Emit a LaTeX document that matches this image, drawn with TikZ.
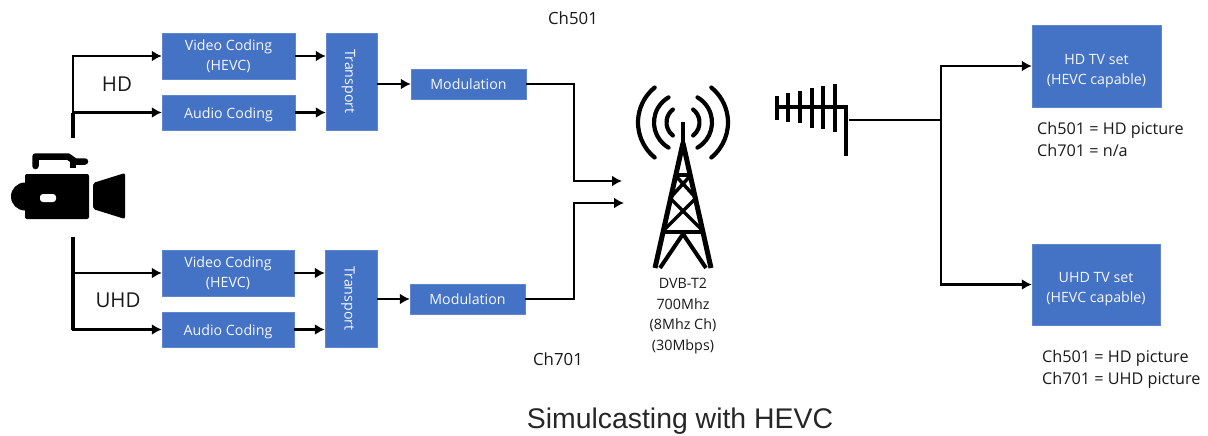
\documentclass[tikz,border=0pt]{standalone}
\usepackage{fontspec}
\setmainfont{Open Sans}
\newfontfamily\titlefont{Liberation Sans}
\usetikzlibrary{arrows.meta, positioning}
\definecolor{boxblue}{HTML}{4472C4}
\begin{document}
\begin{tikzpicture}[x=1pt, y=-1pt,
	block/.style={draw=boxblue!85!white, fill=boxblue, text=white!95!boxblue, font=\fontsize{14.2}{20}\selectfont, align=center, inner sep=0pt},
	lowtext/.style={execute at begin node={\rule{0pt}{16pt}}},
	label/.style={font=\fontsize{16.2}{21.5}\selectfont, align=left, inner sep=0pt, text=black!90},
	feed/.style={line width=2.9pt, -{Latex[length=10pt,width=11pt]}},
	heavy/.style={feed, line width=3.8pt},
	icon/.style={fill=black, draw=none},
	wave/.style={line width=4.2pt, line cap=round}]
	\useasboundingbox (0,0) rectangle (1208,436);
	\node[block, minimum width=133pt, minimum height=46pt] (video1) at (228.5,56) {Video Coding\\(HEVC)};
	\node[block, lowtext, minimum width=133pt, minimum height=35pt] (audio1) at (228.5,112.5) {Audio Coding};
	\node[block, lowtext, rotate=-90, minimum width=97pt, minimum height=51pt] (transport1) at (351.5,81.5) {Transport};
	\node[block, minimum width=115pt, minimum height=30pt] (mod1) at (468.5,84) {Modulation};
	\node[block, minimum width=132pt, minimum height=46pt] (video2) at (228,273) {Video Coding\\(HEVC)};
	\node[block, lowtext, minimum width=132pt, minimum height=35pt] (audio2) at (228,329.5) {Audio Coding};
	\node[block, lowtext, rotate=-90, minimum width=97pt, minimum height=52pt] (transport2) at (351,298.5) {Transport};
	\node[block, minimum width=115pt, minimum height=30pt] (mod2) at (467.5,299) {Modulation};
	\node[block, minimum width=129pt, minimum height=82pt] (hdtv) at (1096.5,66) {\rule{0pt}{20pt}HD TV set\\(HEVC capable)};
	\node[block, minimum width=128pt, minimum height=81pt] (uhdtv) at (1096,284.5) {\rule{0pt}{20pt}UHD TV set\\(HEVC capable)};
	\node[label, font=\fontsize{20.5}{24}\selectfont] (hd) at (117,84) {HD};
	\node[label, font=\fontsize{20.5}{24}\selectfont] (uhd) at (118,300) {UHD};
	\node[label, font=\fontsize{16.8}{20}\selectfont] (ch501) at (573,18) {Ch501};
	\node[label, font=\fontsize{16.8}{20}\selectfont] (ch701) at (558,359) {Ch701};
	\node[label, align=center, font=\fontsize{14.3}{20.5}\selectfont] (dvb) at (683,316) {DVB-T2\\700Mhz\\(8Mhz Ch)\\(30Mbps)};
	\node[label, anchor=north west] (hdtext) at (1037,122) {Ch501 = HD picture\\Ch701 = n/a};
	\node[label, anchor=north west] (uhdtext) at (1042,350) {Ch501 = HD picture\\Ch701 = UHD picture};
	\node[font=\titlefont\fontsize{28.4}{32}\selectfont, text=black!85, inner sep=0pt] (title) at (680,421.5) {Simulcasting with HEVC};

	\coordinate (camup) at (73,138);
	\coordinate (camdown) at (73,237);
	\coordinate (towerin1) at (622,181);
	\coordinate (towerin2) at (624,203);
	\coordinate (aerial) at (849,120);
	\coordinate (split) at (941,120);

	\draw[feed] (camup) |- (video1.west);
	\draw[feed] (camup |- audio1.west) -- (audio1.west);
	\draw[feed] (camdown) |- (video2.west);
	\draw[feed] (camdown) |- (audio2.west);
	\draw[line width=3.5pt] (camup) -- (camup |- audio1.west);
	\draw[line width=3.5pt] (camdown) -- (camdown |- audio2.west);
	\draw[feed] (video1.east) -- (video1.east -| transport1.south);
	\draw[heavy] (audio1.east) -- (audio1.east -| transport1.south);
	\draw[feed] (video2.east) -- (video2.east -| transport2.south);
	\draw[heavy] (audio2.east) -- (audio2.east -| transport2.south);
	\draw[feed] (mod1.west -| transport1.north) -- (mod1.west);
	\draw[feed] (mod2.west -| transport2.north) -- (mod2.west);
	\draw[feed] (mod1.east) -| (574,181) -- (towerin1);
	\draw[feed] (mod2.east) -| (574,203) -- (towerin2);
	\draw[line width=2.4pt] (aerial) -- (split);
	\draw[feed] (split) |- (hdtv.west);
	\draw[feed] (split) |- (uhdtv.west);

	% camera
	\draw[icon, rounded corners=2pt] (25,174) -- (89,174) -- (89,219) -- (25,219) -- cycle;
	\fill[black] (25,196.5) circle (14);
	\draw[icon, rounded corners=2pt] (93,183) -- (125,173) -- (125,219) -- (93,209) -- cycle;
	\draw[line width=6.5pt, line cap=round, line join=round] (35.5,166) -- (35.5,156.5) -- (68,156.5) -- (75,161.5) -- (85,161.5);
	\draw[line width=6pt] (73,160) -- (73,168);
	\fill[white, rounded corners=3pt] (40,194) rectangle (56,202);

	% tower
	\foreach \rad/\ang in {16.5/52, 29/60, 45/51} {
		\draw[wave] (683,122.5) ++(\ang:\rad) arc[start angle=\ang, end angle=-\ang, radius=\rad];
		\draw[wave] (683,122.5) ++(180-\ang:\rad) arc[start angle=180-\ang, end angle=180+\ang, radius=\rad];
	}
	\draw[line width=4pt] (683,122) -- (683,146);
	\draw[line width=5pt] (683,143) -- (655,268) (683,143) -- (711,268);
	\draw[line width=3.5pt] (675,175) -- (691,175) (662,232) -- (704,232);
	\draw[line width=3.5pt] (675,175) -- (696,198) (691,175) -- (670,198) (670,198) -- (704,232) (696,198) -- (662,232);
	\draw[line width=4pt] (683,234) -- (660,268) (683,234) -- (706,268);

	% aerial
	\draw[line width=4pt] (775,107) -- (845.5,107) -- (845.5,156);
	\foreach \px/\ptop/\pbot in {777/96/120, 788/93/122, 800/91/123, 812/88/128, 823/86/129, 835/84/132} {
		\draw[line width=4.3pt] (\px,\ptop) -- (\px,\pbot);
	}
\end{tikzpicture}
\end{document}
